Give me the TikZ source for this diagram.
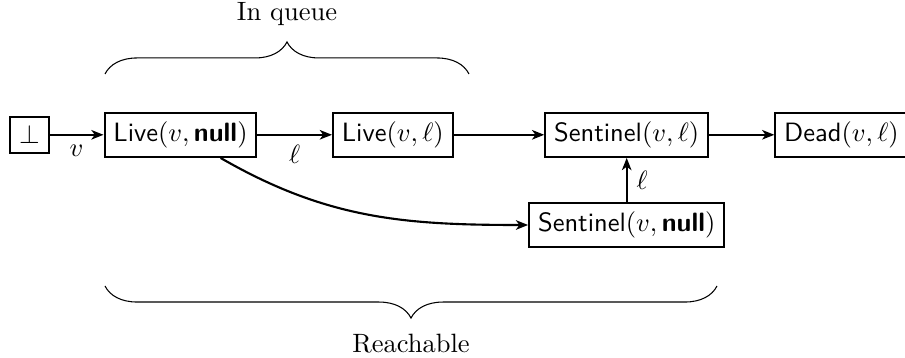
\documentclass[tikz,border=0pt]{standalone}
\usetikzlibrary{arrows.meta,decorations.pathreplacing}
\begin{document}
\begin{tikzpicture}[x=0.3774pt,y=-0.3774pt,
  state/.style={draw,thick,font=\sffamily},
  edge/.style={thick,-{Stealth[length=4.6pt,width=3.6pt,inset=1.3pt]}},
  bracedeco/.style={decorate,decoration={brace,amplitude=12.1pt}}]
\useasboundingbox (0,0) rectangle (905,358);
\node[state] (bot) at (29.5,134.8) {$\bot$};
\node[state] (ln) at (180.5,134.8) {Live$(v,\textbf{null})$};
\node[state] (ll) at (392.8,134.8) {Live$(v,\ell)$};
\node[state] (sl) at (626.7,134.8) {Sentinel$(v,\ell)$};
\node[state] (dl) at (841.5,134.8) {Dead$(v,\ell)$};
\node[state] (sn) at (626.7,225) {Sentinel$(v,\textbf{null})$};
\draw[edge] (bot) -- node[below] {$v$} (ln);
\draw[edge] (ln) -- node[below] {$\ell$} (ll);
\draw[edge] (ll) -- (sl);
\draw[edge] (sl) -- (dl);
\draw[edge] (sn) -- node[right] {$\ell$} (sl);
\draw[edge] (ln) to[out=-30,in=180] (sn);
\coordinate (qa) at (105,74);
\coordinate (qb) at (469,74);
\coordinate (ra) at (717,286);
\coordinate (rb) at (105,286);
\draw[bracedeco] (qa) -- (qb);
\draw[bracedeco] (ra) -- (rb);
\node (qt) at (287,14) {In queue};
\node (rt) at (411,344) {Reachable};
\end{tikzpicture}
\end{document}
